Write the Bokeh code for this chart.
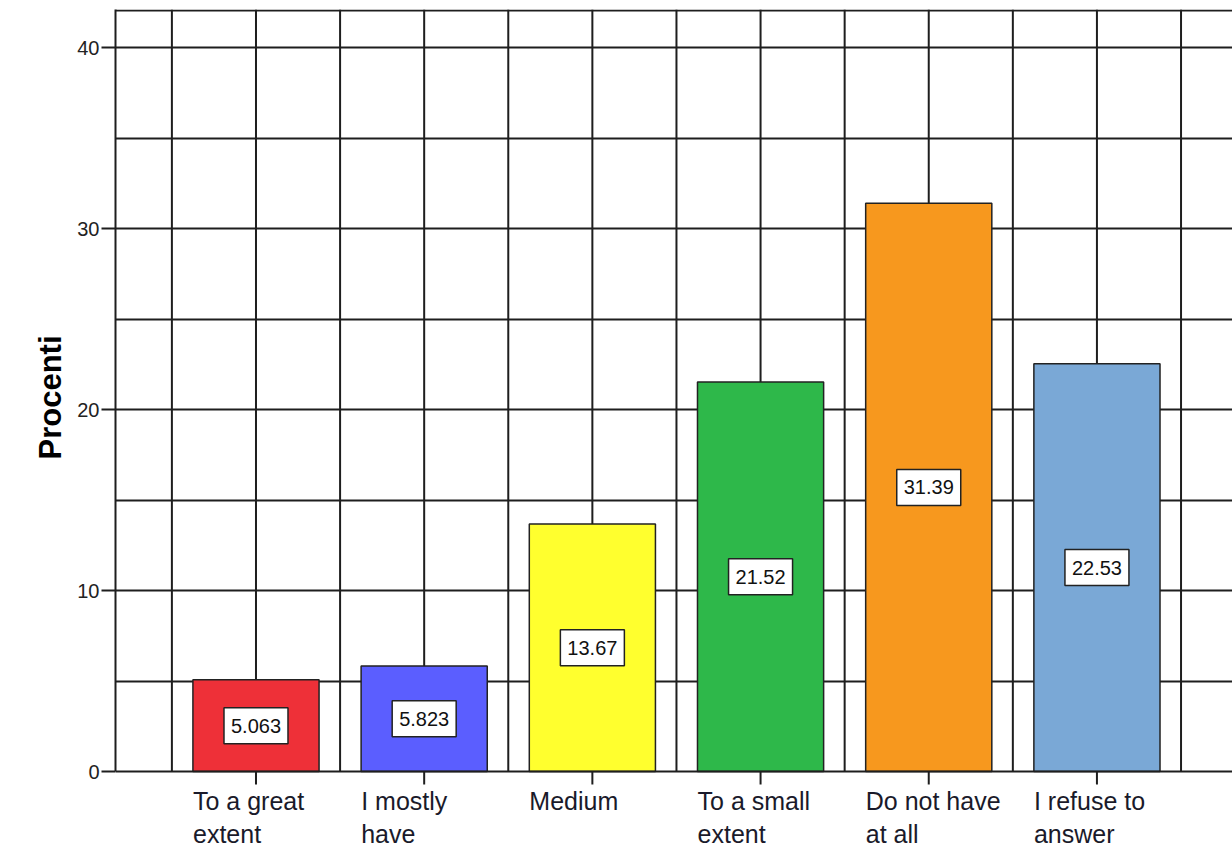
import math
from bokeh.plotting import figure
from bokeh.layouts import column
from bokeh.models import ColumnDataSource, FixedTicker, Range1d, Span
from bokeh.core.properties import value
from bokeh.embed import file_html
from bokeh.resources import INLINE

# ---- data ----
categories = ["To a great\nextent", "I mostly\nhave", "Medium", "To a small\nextent",
              "Do not have\nat all", "I refuse to\nanswer"]
percent_values = [5.063, 5.823, 13.67, 21.52, 31.39, 22.53]
bar_colors = ["#EE3038", "#5B5EFF", "#FFFF2E", "#2EB84A", "#F7981E", "#7AA8D6"]
y_ticks = [0, 10, 20, 30, 40]
y_grid = [5, 10, 15, 20, 25, 30, 35, 40]
y_label = "Procenti"

FONT = "Liberation Sans"
GRID = "#1e1e1e"
PX_PER_UNIT = 18.1
X_START, X_END = 0.1647, 6.806
Y_END = 42.1
Y_LOW = -14 / PX_PER_UNIT         # room under the baseline for the tick marks
MAIN_H = 785
LAB_H = 847 - MAIN_H              # height of the category label strip
Y_LAB_LOW = Y_LOW - LAB_H / PX_PER_UNIT

xs = list(range(1, len(percent_values) + 1))
src = ColumnDataSource(dict(
    x=xs,
    zero=[0] * len(xs),
    top=percent_values,
    mid=[v / 2 for v in percent_values],
    txt=[f"{v:.4g}" for v in percent_values],
    color=bar_colors,
    cat=categories,
))
grid_x = [0.5 + 0.5 * i for i in range(14)]
gsrc = ColumnDataSource(dict(x=grid_x, y0=[0] * len(grid_x), y1=[Y_END] * len(grid_x)))

x_range = Range1d(X_START, X_END)

p = figure(width=1232, height=MAIN_H, output_backend="svg", toolbar_location=None,
           x_range=x_range, y_range=Range1d(Y_LOW, Y_END),
           x_axis_location=None,
           min_border_left=115, min_border_top=9, min_border_bottom=0, min_border_right=0)
p.background_fill_color = "white"
p.border_fill_color = "white"
p.outline_line_color = None
p.xgrid.visible = False

# horizontal grid
p.ygrid.ticker = FixedTicker(ticks=y_grid)
p.ygrid.grid_line_color = GRID
p.ygrid.grid_line_width = 2

# vertical grid lines (from 0 up to the top of the plot)
p.segment(x0="x", y0="y0", x1="x", y1="y1", source=gsrc, line_color=GRID, line_width=2)

# top border and baseline
p.add_layout(Span(location=Y_END - 0.06, dimension="width", line_color=GRID, line_width=2))
p.add_layout(Span(location=0, dimension="width", line_color=GRID, line_width=2))

# bars
p.vbar(x="x", top="top", width=0.75, source=src, fill_color="color",
       line_color="#222222", line_width=1.5)

# value labels (boxed)
p.rect(x="x", y="mid", width=64, height=36, width_units="screen", height_units="screen",
       source=src, fill_color="white", line_color="#222222", line_width=1.5)
p.text(x="x", y="mid", text="txt", source=src, text_align="center", text_baseline="middle",
       text_font=value(FONT), text_font_size="20px", text_color="#111111")

# category tick marks
p.ray(x="x", y="zero", length=13, length_units="screen", angle=-math.pi / 2,
      source=src, line_color=GRID, line_width=2)

# y axis
ya = p.yaxis[0]
ya.bounds = (0, Y_END)
ya.ticker = FixedTicker(ticks=y_ticks)
ya.major_tick_out = 14
ya.major_tick_in = 0
ya.minor_tick_line_color = None
ya.major_label_standoff = 2
ya.major_label_text_font = FONT
ya.major_label_text_font_size = "20px"
ya.major_label_text_color = "#222222"
ya.axis_line_color = GRID
ya.axis_line_width = 2
ya.major_tick_line_width = 2
ya.major_tick_line_color = GRID
ya.axis_label = y_label
ya.axis_label_text_font = FONT
ya.axis_label_text_font_style = "bold"
ya.axis_label_text_font_size = "31px"
ya.axis_label_text_color = "#000000"
ya.axis_label_standoff = 6

# ---- category label strip under the plot (shares the x scale) ----
q = figure(width=1232, height=LAB_H, output_backend="svg", toolbar_location=None,
           x_range=x_range, y_range=Range1d(Y_LAB_LOW, Y_LOW),
           x_axis_location=None, y_axis_location=None,
           min_border_left=115, min_border_top=0, min_border_bottom=0, min_border_right=0)
q.background_fill_color = "white"
q.border_fill_color = "white"
q.outline_line_color = None
q.grid.visible = False

q.text(x="x", y="zero", text="cat", source=src, x_offset=-63, y_offset=15,
       text_align="left", text_baseline="top", text_line_height=1.2,
       text_font=value(FONT), text_font_size="25px", text_color="#1a1a2a")

layout = column(p, q, spacing=0)
open("out.html", "w").write(file_html(layout, INLINE))
